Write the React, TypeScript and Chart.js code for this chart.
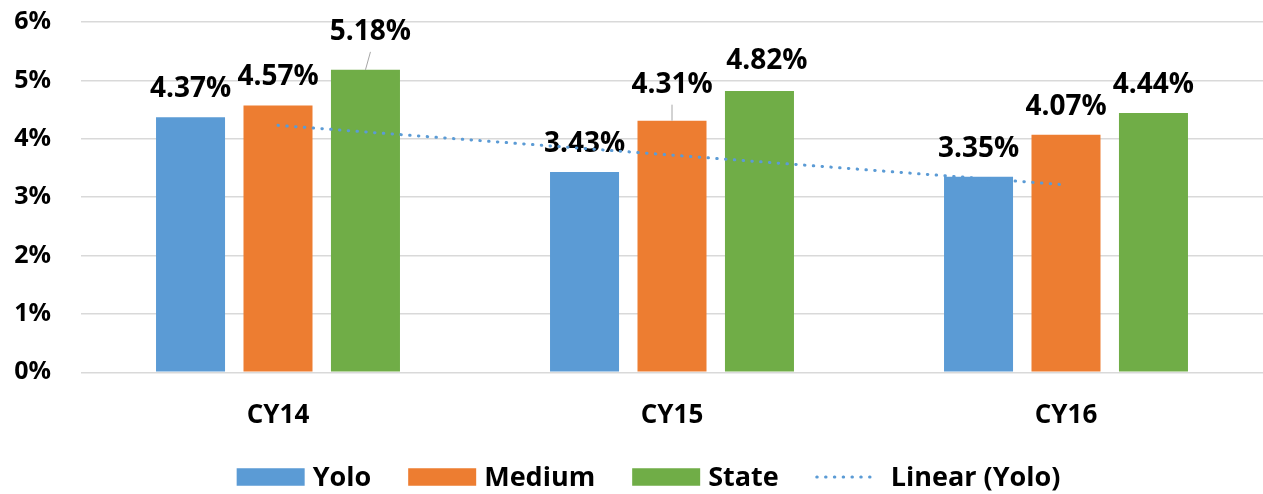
import React, { useEffect, useRef } from "react";
import { Chart, registerables } from "chart.js";

Chart.register(...registerables);

const categories = ["CY14", "CY15", "CY16"];
const yoloValues = [4.37, 3.43, 3.35];
const mediumValues = [4.57, 4.31, 4.07];
const stateValues = [5.18, 4.82, 4.44];
const trendYoloValues = [4.23, 3.72, 3.21];
const seriesNames = ["Yolo", "Medium", "State", "Linear (Yolo)"];
const seriesColors = ["#5B9BD5", "#ED7D31", "#70AD47", "#5B9BD5"];

// manual nudges of some data labels: [datasetIndex, index, dx, dy, leader]
const labelNudges: [number, number, number, number, boolean][] = [
  [2, 0, 5, -10, true],
  [1, 1, 0, -8, true],
  [2, 1, 7.5, -1.5, false],
];

const FONT = "'Open Sans', Lato, sans-serif";
const WEIGHT = "bold";

const labelPlugin = {
  id: "barLabels",
  afterDatasetDraw(chart: any, args: any) {
    const meta = args.meta;
    if (meta.type !== "bar") return;
    const ctx = chart.ctx;
    const ds = chart.data.datasets[args.index];
    ctx.save();
    ctx.font = `${WEIGHT} 28px ${FONT}`;
    ctx.fillStyle = "#000";
    ctx.textAlign = "center";
    ctx.textBaseline = "alphabetic";
    meta.data.forEach((el: any, i: number) => {
      const v = ds.data[i] as number;
      let dx = 0, dy = 0, leader = false;
      for (const n of labelNudges) {
        if (n[0] === args.index && n[1] === i) { dx = n[2]; dy = n[3]; leader = n[4]; }
      }
      const lx = el.x + dx;
      const ly = el.y - 20 + dy;
      if (leader) {
        ctx.save();
        ctx.strokeStyle = "#A6A6A6";
        ctx.lineWidth = 1;
        ctx.beginPath();
        ctx.moveTo(lx, ly + 12);
        ctx.lineTo(el.x, el.y);
        ctx.stroke();
        ctx.restore();
      }
      ctx.fillText(v.toFixed(2) + "%", lx, ly);
    });
    ctx.restore();
  },
};

const legendPlugin = {
  id: "customLegend",
  afterDraw(chart: any) {
    const ctx = chart.ctx;
    ctx.save();
    ctx.font = `${WEIGHT} 27px ${FONT}`;
    const widths = seriesNames.map((t) => ctx.measureText(t).width);
    const markW = [68, 68, 68, 62];
    const markGap = [8, 8, 8, 13];
    const itemGap = 37;
    let total = 0;
    widths.forEach((w, i) => { total += markW[i] + markGap[i] + w; });
    total += itemGap * (seriesNames.length - 1);
    let x = 648.5 - total / 2;
    const cy = 477;
    const baseline = 485.7;
    seriesNames.forEach((name, i) => {
      if (i < 3) {
        ctx.fillStyle = seriesColors[i];
        ctx.fillRect(x, cy - 8.75, markW[i], 17.5);
      } else {
        ctx.save();
        ctx.strokeStyle = seriesColors[i];
        ctx.lineWidth = 3;
        ctx.lineCap = "round";
        ctx.setLineDash([0.5, 8.3]);
        ctx.beginPath();
        ctx.moveTo(x + 1, cy);
        ctx.lineTo(x + markW[i], cy);
        ctx.stroke();
        ctx.restore();
      }
      x += markW[i] + markGap[i];
      ctx.fillStyle = "#000";
      ctx.textAlign = "left";
      ctx.textBaseline = "alphabetic";
      ctx.fillText(name, x, baseline);
      x += widths[i] + itemGap;
    });
    ctx.restore();
  },
};

export default function App() {
  const ref = useRef<HTMLCanvasElement | null>(null);
  useEffect(() => {
    if (!ref.current) return;
    const barCommon = { categoryPercentage: 0.666, barPercentage: 0.789, borderWidth: 0, order: 1 };
    const chart = new Chart(ref.current, {
      type: "bar",
      data: {
        labels: categories,
        datasets: [
          { label: seriesNames[0], data: yoloValues, backgroundColor: seriesColors[0], ...barCommon },
          { label: seriesNames[1], data: mediumValues, backgroundColor: seriesColors[1], ...barCommon },
          { label: seriesNames[2], data: stateValues, backgroundColor: seriesColors[2], ...barCommon },
          {
            type: "line",
            label: seriesNames[3],
            data: trendYoloValues,
            borderColor: seriesColors[3],
            backgroundColor: "transparent",
            borderWidth: 3,
            borderCapStyle: "round",
            borderDash: [0.5, 8.3],
            pointRadius: 0,
            fill: false,
            tension: 0,
            order: 0,
          } as any,
        ],
      },
      options: {
        animation: false,
        responsive: false,
        layout: { padding: { top: 22, bottom: 34.5, left: 0, right: 0 } },
        plugins: { legend: { display: false }, tooltip: { enabled: false } },
        scales: {
          x: {
            grid: { display: false, drawTicks: false },
            border: { display: false },
            ticks: { font: { family: FONT, size: 26, weight: WEIGHT }, color: "#000", padding: 28 },
          },
          y: {
            min: 0,
            max: 6,
            ticks: {
              stepSize: 1,
              callback: (v: any) => v + "%",
              font: { family: FONT, size: 25, weight: WEIGHT },
              color: "#000",
              padding: 30,
            },
            grid: { color: "#D9D9D9", lineWidth: 1.5, drawTicks: false },
            border: { display: false },
            afterFit(scale: any) {
              scale.width = 81;
              scale.paddingTop = 0;
              scale.paddingBottom = 0;
            },
          },
        },
      },
      plugins: [labelPlugin, legendPlugin],
    } as any);
    return () => chart.destroy();
  }, []);
  return (
    <div style={{ position: "absolute", left: 0, top: 0, width: 1263, height: 494, background: "#fff" }}>
      <canvas ref={ref} width={1263} height={494} style={{ display: "block" }} />
    </div>
  );
}
